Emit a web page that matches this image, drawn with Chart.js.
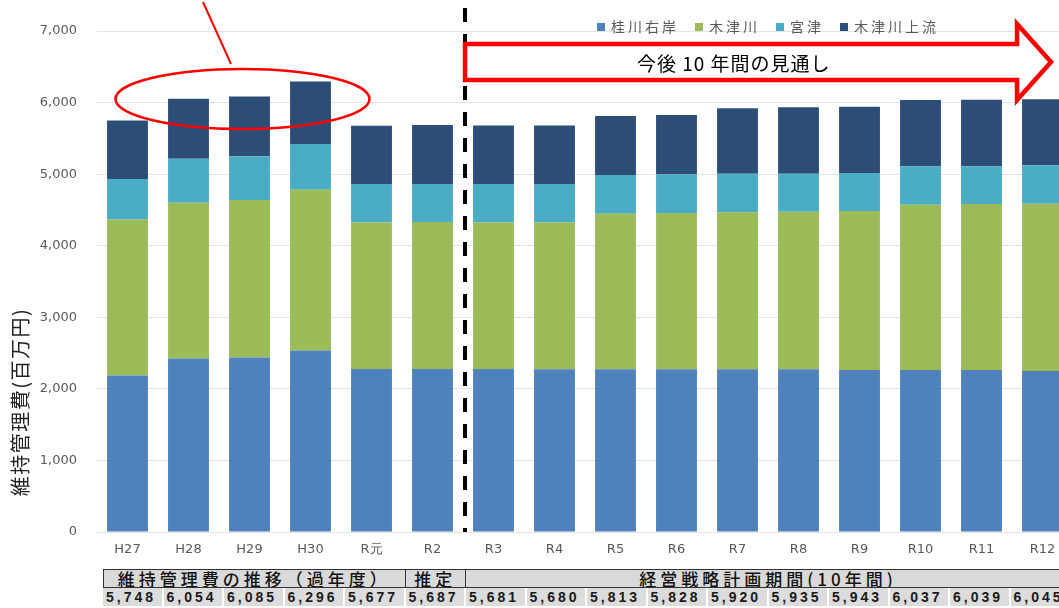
<!DOCTYPE html>
<html lang="ja">
<head>
<meta charset="utf-8">
<title>維持管理費</title>
<script src="https://cdn.jsdelivr.net/npm/chart.js@4.4.0/dist/chart.umd.min.js"></script>
<style>
  html, body { margin: 0; padding: 0; background: #fff; overflow: hidden; }
  #wrap { position: relative; width: 1073px; height: 560px; }
  #tbl {
    position: absolute; left: 103px; top: 569px;
    display: grid; grid-template-columns: repeat(16, 60.5px);
    grid-template-rows: 19px 18px;
  }
  #tbl .h {
    box-sizing: border-box; background: #d9d9d9; color: #111;
    border: 1px solid #333; border-left: none;
    font: 500 17px "Noto Sans CJK JP"; letter-spacing: 4px;
    line-height: 17px; text-align: center; white-space: nowrap; overflow: hidden;
  }
  #tbl .h:first-child { border-left: 1px solid #333; }
  #tbl .v {
    box-sizing: border-box; background: #dcdcdc; color: #1a1a1a;
    border-right: 2px solid #fff;
    font: bold 14px "Liberation Sans"; letter-spacing: 3px;
    line-height: 18px; padding-left: 3px; white-space: nowrap;
  }
</style>
</head>
<body>
<div id="wrap"><canvas id="myChart"></canvas></div>
<div id="tbl"></div>
<script>
// 年度
const years = ["H27", "H28", "H29", "H30", "R元", "R2", "R3", "R4", "R5", "R6", "R7", "R8", "R9", "R10", "R11", "R12"];
// 系列 (百万円)
const katsuraRight = [2186, 2423, 2437, 2535, 2279, 2279, 2279, 2275, 2275, 2275, 2275, 2275, 2265, 2265, 2265, 2251];
const kizugawa     = [2179, 2179, 2203, 2248, 2044, 2053, 2044, 2048, 2173, 2183, 2192, 2201, 2221, 2309, 2319, 2337];
const miyazu       = [568, 614, 609, 639, 540, 531, 540, 540, 541, 540, 540, 531, 530, 535, 525, 535];
const kizuUpper    = [815, 838, 836, 874, 814, 824, 818, 817, 824, 830, 913, 928, 927, 928, 930, 922];
// 合計 (表の値)
const totals = [5748, 6054, 6085, 6296, 5677, 5687, 5681, 5680, 5813, 5828, 5920, 5935, 5943, 6037, 6039, 6045];
// 表の見出し
const periodLabels = ["維持管理費の推移（過年度）", "推定", "経営戦略計画期間(10年間)"];
const periodSpans = [5, 1, 10];
const yTicks = [0, 1000, 2000, 3000, 4000, 5000, 6000, 7000];
const yTitle = "維持管理費(百万円)";
const arrowText = "今後 10 年間の見通し";

const tbl = document.getElementById("tbl");
periodLabels.forEach((t, i) => {
  const d = document.createElement("div");
  d.className = "h";
  d.style.gridColumn = "span " + periodSpans[i];
  d.textContent = t;
  tbl.appendChild(d);
});
totals.forEach((v) => {
  const d = document.createElement("div");
  d.className = "v";
  d.textContent = v.toLocaleString("en-US");
  tbl.appendChild(d);
});

// 凡例・注記
const decorations = {
  id: "decorations",
  afterDatasetsDraw(chart) {
    const ctx = chart.ctx;
    const x = chart.scales.x;
    const y = chart.scales.y;
    const area = chart.chartArea;
    ctx.save();

    // 破線 (R2 と R3 の間)
    const divX = (x.getPixelForValue(5) + x.getPixelForValue(6)) / 2 + 2;
    ctx.strokeStyle = "#000";
    ctx.lineWidth = 4;
    ctx.setLineDash([14, 12]);
    ctx.beginPath();
    ctx.moveTo(divX, 8);
    ctx.lineTo(divX, area.bottom);
    ctx.stroke();
    ctx.setLineDash([]);

    // 楕円
    ctx.strokeStyle = "#ff0000";
    ctx.lineWidth = 2.5;
    ctx.beginPath();
    ctx.ellipse(x.getPixelForValue(2) - 7, y.getPixelForValue(6050), 127, 30, 0, 0, Math.PI * 2);
    ctx.stroke();
    ctx.lineWidth = 2;
    ctx.beginPath();
    ctx.moveTo(203, 2);
    ctx.lineTo(231, 64);
    ctx.stroke();

    // 矢印
    ctx.lineWidth = 4.5;
    ctx.lineJoin = "miter";
    ctx.beginPath();
    ctx.moveTo(divX, 44);
    ctx.lineTo(1017, 44);
    ctx.lineTo(1017, 24);
    ctx.lineTo(1051, 62);
    ctx.lineTo(1017, 100);
    ctx.lineTo(1017, 80);
    ctx.lineTo(divX, 80);
    ctx.closePath();
    ctx.stroke();

    ctx.fillStyle = "#000";
    ctx.font = '19px "Noto Sans CJK JP"';
    ctx.letterSpacing = "1px";
    ctx.textAlign = "left";
    ctx.textBaseline = "middle";
    ctx.fillText(arrowText, 637, 64);

    // 凡例
    ctx.font = '14px "Noto Sans CJK JP"';
    ctx.letterSpacing = "3px";
    let lx = 597;
    chart.data.datasets.forEach((ds) => {
      ctx.fillStyle = ds.backgroundColor;
      ctx.fillRect(lx, 23, 8, 8);
      ctx.fillStyle = "#595959";
      ctx.fillText(ds.label, lx + 14, 27);
      lx += 14 + ctx.measureText(ds.label).width + 16;
    });

    // 縦軸タイトル
    ctx.translate(20, 402);
    ctx.rotate(-Math.PI / 2);
    ctx.font = '20px "Noto Sans CJK JP"';
    ctx.letterSpacing = "1.5px";
    ctx.textAlign = "center";
    ctx.fillStyle = "#222";
    ctx.fillText(yTitle, 0, 0);
    ctx.restore();
  },
};

const data = {
  labels: years,
  datasets: [
    { label: "桂川右岸", data: katsuraRight, backgroundColor: "#4f81bd" },
    { label: "木津川", data: kizugawa, backgroundColor: "#9bbb59" },
    { label: "宮津", data: miyazu, backgroundColor: "#4bacc6" },
    { label: "木津川上流", data: kizuUpper, backgroundColor: "#2c4d75" },
  ],
};

const config = {
  type: "bar",
  data: data,
  options: {
    responsive: true,
    maintainAspectRatio: false,
    animation: false,
    layout: { padding: { top: 31, left: 0, right: 0, bottom: 0 } },
    datasets: { bar: { categoryPercentage: 1, barPercentage: 0.67, borderWidth: 0 } },
    plugins: {
      legend: { display: false },
      tooltip: { enabled: false },
    },
    scales: {
      x: {
        stacked: true,
        grid: { display: false, drawTicks: false },
        border: { display: false },
        ticks: { color: "#595959", font: { family: "DejaVu Sans", size: 13 }, padding: 10, maxRotation: 0 },
        afterFit: (scale) => { scale.height = 28; },
      },
      y: {
        stacked: true,
        min: yTicks[0],
        max: yTicks[yTicks.length - 1],
        grid: { color: "#e3e3e3", drawTicks: false },
        border: { display: false },
        ticks: {
          stepSize: 1000,
          color: "#595959",
          font: { family: "DejaVu Sans", size: 13 },
          padding: 20,
          callback: (v) => v.toLocaleString("en-US"),
        },
        afterFit: (scale) => { scale.width = 97; },
      },
    },
  },
  plugins: [decorations],
};

const ctx = document.getElementById("myChart").getContext("2d");
new Chart(ctx, config);
</script>
</body>
</html>
